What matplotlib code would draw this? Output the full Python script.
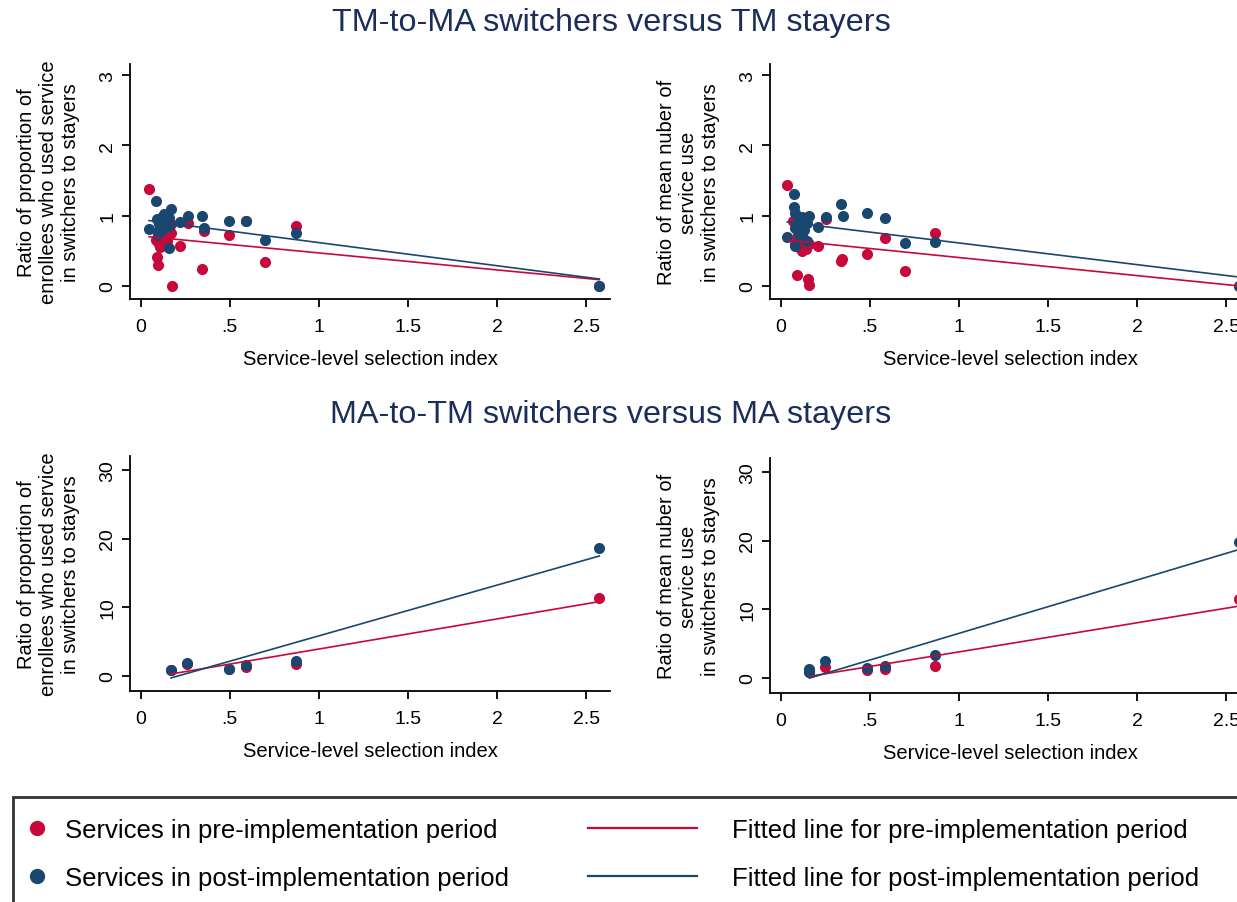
"""Switchers vs stayers: ratio of service use against selection index."""
import matplotlib
matplotlib.use("Agg")
import matplotlib.pyplot as plt
import numpy as np
from matplotlib.lines import Line2D

plt.rcParams.update({
    "font.family": ["Liberation Sans", "DejaVu Sans"],
    "font.size": 14,
    "axes.linewidth": 1.3,
    "xtick.major.width": 1.3,
    "ytick.major.width": 1.3,
    "xtick.major.size": 6,
    "ytick.major.size": 6,
})

RED = "#c8073a"
BLUE = "#1a476f"
TITLE_COLOR = "#1b2d5b"

# --- TM-to-MA switchers vs TM stayers: proportion of enrollees ---
tl_pre_x = [0.047, 0.174, 0.344, 0.70, 0.87, 0.59, 0.494, 0.355, 0.265, 0.22, 0.168, 0.09,
            0.097, 0.168, 0.085, 0.10, 0.11, 0.12, 0.13, 0.14, 0.105, 0.095, 0.125, 0.15, 2.574]
tl_pre_y = [1.38, 0.00, 0.24, 0.34, 0.85, 0.93, 0.73, 0.78, 0.90, 0.57, 0.75, 0.41,
            0.30, 0.88, 0.66, 0.60, 0.55, 0.63, 0.70, 0.60, 0.68, 0.72, 0.58, 0.64, 0.00]
tl_post_x = [0.086, 0.17, 0.265, 0.344, 0.494, 0.59, 0.355, 0.70, 0.87, 0.22, 0.047, 0.159,
             0.09, 0.10, 0.11, 0.12, 0.13, 0.14, 0.10, 0.12, 0.15, 0.16, 0.095, 0.13, 0.11, 0.16, 2.574]
tl_post_y = [1.21, 1.09, 1.00, 1.00, 0.93, 0.92, 0.82, 0.65, 0.75, 0.91, 0.81, 0.54,
             0.95, 0.88, 0.93, 0.98, 0.90, 0.95, 0.78, 0.80, 0.92, 0.97, 0.72, 1.02, 0.85, 0.86, 0.00]
tl_fit_pre = (0.712, -0.2417)    # intercept, slope
tl_fit_post = (0.946, -0.3288)

# --- TM-to-MA switchers vs TM stayers: mean number of service use ---
tr_pre_x = [0.037, 0.254, 0.584, 0.866, 0.696, 0.483, 0.342, 0.337, 0.21, 0.09, 0.152, 0.16,
            0.07, 0.08, 0.10, 0.12, 0.13, 0.15, 0.11, 0.09, 0.14, 0.16, 0.12, 2.574]
tr_pre_y = [1.43, 0.95, 0.68, 0.75, 0.21, 0.45, 0.38, 0.35, 0.57, 0.15, 0.10, 0.02,
            0.92, 0.60, 0.55, 0.50, 0.58, 0.62, 0.65, 0.70, 0.52, 0.60, 0.72, 0.00]
tr_post_x = [0.075, 0.075, 0.082, 0.338, 0.348, 0.484, 0.584, 0.254, 0.211, 0.16, 0.696, 0.866,
             0.037, 0.08, 0.149, 0.09, 0.10, 0.11, 0.12, 0.13, 0.14, 0.10, 0.12, 0.15, 0.08,
             0.11, 0.13, 2.574]
tr_post_y = [1.31, 1.13, 1.04, 1.17, 0.99, 1.04, 0.97, 0.98, 0.84, 0.99, 0.61, 0.63,
             0.69, 0.57, 0.64, 0.90, 0.85, 0.95, 0.88, 0.80, 0.93, 0.75, 0.98, 0.90, 0.82,
             0.70, 0.96, 0.00]
tr_fit_pre = (0.662, -0.257)
tr_fit_post = (0.921, -0.3086)

# --- MA-to-TM switchers vs MA stayers ---
bl_x = [0.17, 0.258, 0.494, 0.591, 0.872, 2.574]
bl_pre_y = [0.9, 1.75, 1.05, 1.35, 1.7, 11.4]
bl_post_y = [0.92, 1.85, 1.0, 1.6, 2.14, 18.6]
bl_fit_pre = (-0.455, 4.38)
bl_fit_post = (-1.54, 7.38)

br_x = [0.161, 0.161, 0.249, 0.485, 0.584, 0.865, 2.57]
br_pre_y = [1.1, 0.9, 1.55, 1.1, 1.35, 1.7, 11.55]
br_post_y = [1.3, 0.9, 2.5, 1.4, 1.7, 3.4, 19.75]
br_fit_pre = (-0.445, 4.24)
br_fit_post = (-1.27, 7.76)

x_ticks = [0, 0.5, 1, 1.5, 2, 2.5]
x_tick_labels = ["0", ".5", "1", "1.5", "2", "2.5"]
ylabel_prop = "Ratio of proportion of\nenrollees who used service\nin switchers to stayers"
ylabel_mean = "Ratio of mean nuber of\nservice use\nin switchers to stayers"
xlabel = "Service-level selection index"


def panel(ax, pre_x, pre_y, post_x, post_y, fit_pre, fit_post, yticks, ylim, ylabel):
    ax.plot(pre_x, pre_y, "o", color=RED, markersize=8, markeredgewidth=0, clip_on=False)
    ax.plot(post_x, post_y, "o", color=BLUE, markersize=8, markeredgewidth=0, clip_on=False)
    for xs, (b0, b1), c in [(pre_x, fit_pre, RED), (post_x, fit_post, BLUE)]:
        xx = np.array([min(xs), max(xs)])
        ax.plot(xx, b0 + b1 * xx, color=c, linewidth=1.2)

    ax.set_xlim(-0.06, 2.634)
    ax.set_ylim(*ylim)
    ax.set_xticks(x_ticks)
    ax.set_xticklabels(x_tick_labels)
    ax.set_yticks(yticks)
    ax.tick_params(axis="y", labelrotation=90, pad=4)
    ax.tick_params(axis="x", pad=8)
    for lab in ax.get_yticklabels():
        lab.set_verticalalignment("center")
    ax.spines["top"].set_visible(False)
    ax.spines["right"].set_visible(False)
    ax.set_xlabel(xlabel, fontsize=14.5, labelpad=10)
    ax.set_ylabel(ylabel, fontsize=14.5, labelpad=14, linespacing=1.2)


fig = plt.figure(figsize=(12.37, 9.03), dpi=100)
W, H = 1237, 903

ax_tl = fig.add_axes([130 / W, 1 - 300 / H, 480 / W, 235 / H])
ax_tr = fig.add_axes([770 / W, 1 - 300 / H, 480 / W, 235 / H])
ax_bl = fig.add_axes([130 / W, 1 - 692 / H, 480 / W, 235 / H])
ax_br = fig.add_axes([770 / W, 1 - 694 / H, 480 / W, 235 / H])

panel(ax_tl, tl_pre_x, tl_pre_y, tl_post_x, tl_post_y, tl_fit_pre, tl_fit_post,
      [0, 1, 2, 3], (-0.185, 3.158), ylabel_prop)
panel(ax_tr, tr_pre_x, tr_pre_y, tr_post_x, tr_post_y, tr_fit_pre, tr_fit_post,
      [0, 1, 2, 3], (-0.185, 3.158), ylabel_mean)
panel(ax_bl, bl_x, bl_pre_y, bl_x, bl_post_y, bl_fit_pre, bl_fit_post,
      [0, 10, 20, 30], (-2.18, 32.0), ylabel_prop)
panel(ax_br, br_x, br_pre_y, br_x, br_post_y, br_fit_pre, br_fit_post,
      [0, 10, 20, 30], (-2.18, 32.0), ylabel_mean)

fig.text(611 / W, 1 - 23 / H, "TM-to-MA switchers versus TM stayers",
         fontsize=23.3, color=TITLE_COLOR, ha="center", va="center")
fig.text(611 / W, 1 - 415 / H, "MA-to-TM switchers versus MA stayers",
         fontsize=23.3, color=TITLE_COLOR, ha="center", va="center")

# legend box running off the right and bottom edges
box = plt.Rectangle((13 / W, -0.1), 1.1, 0.1 + (903 - 798) / H, transform=fig.transFigure,
                    fill=False, edgecolor="#333333", linewidth=2, clip_on=False)
fig.add_artist(box)

pt_handles = [Line2D([], [], marker="o", linestyle="none", color=RED, markersize=10),
              Line2D([], [], marker="o", linestyle="none", color=BLUE, markersize=10)]
ln_handles = [Line2D([], [], color=RED, linewidth=1.6),
              Line2D([], [], color=BLUE, linewidth=1.6)]
fig.legend(pt_handles, ["Services in pre-implementation period",
                        "Services in post-implementation period"],
           loc="upper left", bbox_to_anchor=(24 / W, 1 - 819 / H), frameon=False,
           fontsize=18.5, handlelength=1.0, handletextpad=0.6, labelspacing=0.95,
           borderpad=0, borderaxespad=0)
fig.legend(ln_handles, ["Fitted line for pre-implementation period",
                        "Fitted line for post-implementation period"],
           loc="upper left", bbox_to_anchor=(588 / W, 1 - 819 / H), frameon=False,
           fontsize=18.5, handlelength=4.24, handletextpad=1.36, labelspacing=0.95,
           borderpad=0, borderaxespad=0)

fig.savefig("out.png", dpi=100)
